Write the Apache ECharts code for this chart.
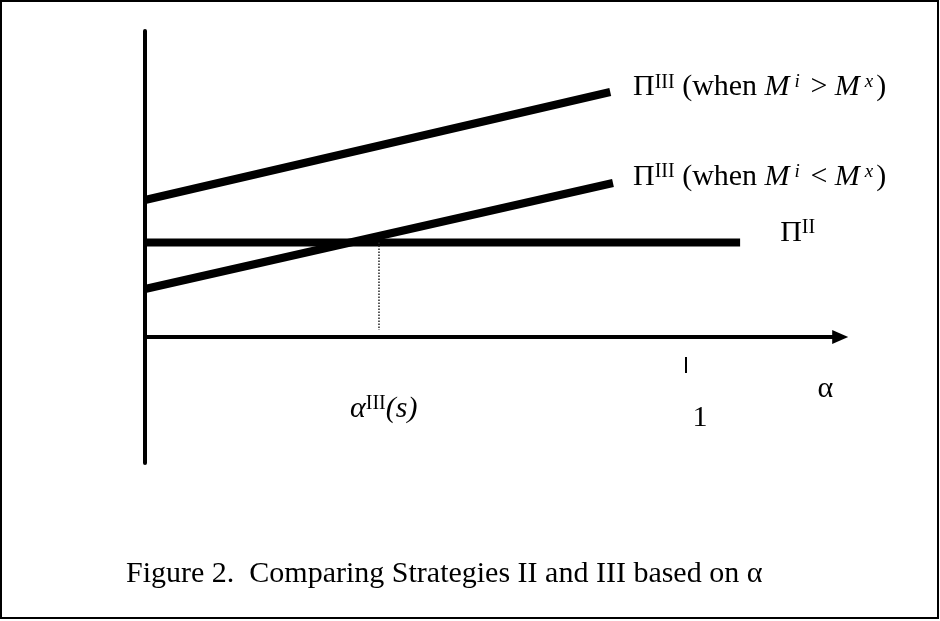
<!DOCTYPE html>
<html>
<head>
<meta charset="utf-8">
<script src="https://cdn.jsdelivr.net/npm/echarts@6/dist/echarts.min.js"></script>
<style>
  html, body { margin: 0; padding: 0; background: #fff; }
  #chart { width: 940px; height: 621px; }
</style>
</head>
<body>
<div id="chart"></div>
<script>
// the three profit lines (alpha on x, profit on y)
var upperX = [0, 0.86];
var upperY = [1.37, 2.45];
var lowerX = [0, 0.865];
var lowerY = [0.48, 1.54];
var flatX = [0, 1.1];
var flatY = [0.945, 0.945];
// dotted drop line at the crossing point, and the "1" tick
var dropX = [0.4325, 0.4325];
var dropY = [0.945, 0.07];
var tickX = [1, 1];
var tickY = [-0.2, -0.36];

// text labels placed in data coordinates
var labelText = [
    '{n|Π}{sup|III}{n| (when }{it|M}{isup|i}{n| > }{it|M}{isup|x}{n|)}',
    '{n|Π}{sup|III}{n| (when }{it|M}{isup|i}{n| < }{it|M}{isup|x}{n|)}',
    '{n|Π}{sup|II}',
    '{it|α}{sup|III}{it|(s)}',
    '{n|α}',
    '{n|1}'
];
var labelX = [0.902, 0.902, 1.174, 0.379, 1.243, 1.012];
var labelY = [2.495, 1.60, 1.04, -0.72, -0.52, -0.81];

var captionText = 'Figure 2.  Comparing Strategies II and III based on α';

var FONT = "'Liberation Serif', 'Times New Roman', serif";

function pts(xs, ys) {
    var out = [];
    for (var i = 0; i < xs.length; i++) {
        out.push([xs[i], ys[i]]);
    }
    return out;
}

function seg(xs, ys, width, type, color) {
    return {
        type: 'line',
        data: pts(xs, ys),
        symbol: 'none',
        silent: true,
        lineStyle: { color: color || '#000', width: width, type: type || 'solid', cap: 'butt' },
        z: 3
    };
}

var labelData = [];
for (var i = 0; i < labelText.length; i++) {
    labelData.push({
        value: [labelX[i], labelY[i]],
        label: { formatter: labelText[i] }
    });
}

var myChart = echarts.init(document.getElementById('chart'));
var option = {
    animation: false,
    backgroundColor: '#fff',
    title: {
        text: captionText,
        left: 126,
        top: 559,
        padding: 0,
        textStyle: { fontFamily: FONT, fontSize: 30, fontWeight: 'normal', color: '#000', lineHeight: 30 }
    },
    graphic: [{
        type: 'rect',
        shape: { x: 1, y: 1, width: 937, height: 617 },
        style: { fill: null, stroke: '#000', lineWidth: 2 },
        silent: true
    }],
    // 541 px per unit of alpha, 100 px per unit of profit
    grid: { left: 145, top: 31, width: 695.2, height: 432 },
    xAxis: {
        type: 'value',
        min: 0,
        max: 1.285,
        axisLine: {
            show: true,
            onZero: true,
            symbol: ['none', 'triangle'],
            symbolSize: [14, 16],
            lineStyle: { color: '#000', width: 4 }
        },
        axisTick: { show: false },
        axisLabel: { show: false },
        splitLine: { show: false }
    },
    yAxis: {
        type: 'value',
        min: -1.26,
        max: 3.06,
        axisLine: { show: true, onZero: false, lineStyle: { color: '#000', width: 4 } },
        axisTick: { show: false },
        axisLabel: { show: false },
        splitLine: { show: false }
    },
    series: [
        seg(upperX, upperY, 8),
        seg(lowerX, lowerY, 8),
        seg(flatX, flatY, 8),
        seg(dropX, dropY, 1.5, 'dotted', '#222'),
        seg(tickX, tickY, 2),
        {
            type: 'scatter',
            symbolSize: 0,
            silent: true,
            itemStyle: { color: '#000', opacity: 1 },
            data: labelData,
            label: {
                show: true,
                position: 'inside',
                align: 'left',
                verticalAlign: 'middle',
                color: '#000',
                opacity: 1,
                textBorderWidth: 0,
                rich: {
                    n: { fontFamily: FONT, fontSize: 30, lineHeight: 30, color: '#000' },
                    it: { fontFamily: FONT, fontSize: 30, fontStyle: 'italic', lineHeight: 30, color: '#000' },
                    sup: { fontFamily: FONT, fontSize: 20, lineHeight: 14, verticalAlign: 'top', color: '#000' },
                    isup: { fontFamily: FONT, fontSize: 19, fontStyle: 'italic', lineHeight: 14, verticalAlign: 'top', color: '#000', padding: [0, 3, 0, 5] }
                }
            }
        }
    ]
};
myChart.setOption(option);
</script>
</body>
</html>
